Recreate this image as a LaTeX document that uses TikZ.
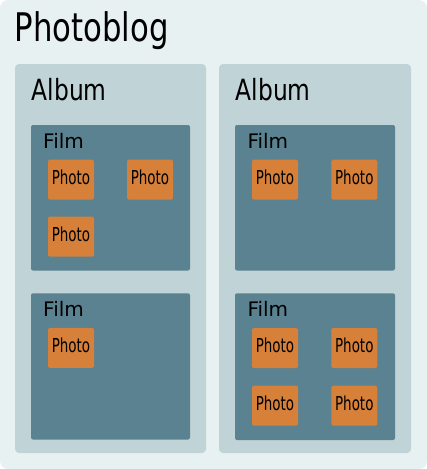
\documentclass[tikz,border=0pt]{standalone}
\usepackage{fontspec}
\setmainfont{DejaVu Sans}
\definecolor{blogbg}{RGB}{232,241,241}
\definecolor{albumbg}{RGB}{192,211,214}
\definecolor{filmbg}{RGB}{90,130,145}
\definecolor{photobg}{RGB}{214,128,58}
\newcommand{\blogtext}[1]{\scalebox{0.78}[1]{\fontsize{39.4}{40}\selectfont #1}}
\newcommand{\albumtext}[1]{\scalebox{0.8}[1]{\fontsize{29.2}{30}\selectfont #1}}
\newcommand{\filmtext}[1]{{\fontsize{20}{21}\selectfont #1}}
\newcommand{\phototext}[1]{\scalebox{0.7}[1]{\fontsize{19.2}{20}\selectfont #1}}
\tikzset{
	albumbox/.style={fill=albumbg, rounded corners=4pt},
	filmbox/.style={fill=filmbg, rounded corners=2pt},
	photobox/.style={fill=photobg, rounded corners=1.5pt, minimum width=46pt, minimum height=40pt, inner sep=0pt, text height=14pt, text depth=5pt},
	caption/.style={anchor=base west, inner sep=0pt}
}

\begin{document}
\begin{tikzpicture}[x=1pt, y=-1pt]
			%%%%% START %%%%%
			
			\useasboundingbox (0, 0) rectangle (427, 469);
			\fill[blogbg, rounded corners=8pt] (0, 0) rectangle (427, 469);
			\node[caption] (blog) at (14.5, 41) {\blogtext{Photoblog}};
			
			\fill[albumbox] (15, 64) rectangle (206, 453);
			\node[caption] (albumA) at (31.5, 100) {\albumtext{Album}};
			
			\fill[albumbox] (219, 64) rectangle (411, 453);
			\node[caption] (albumB) at (235.5, 100) {\albumtext{Album}};
			
			\fill[filmbox] (31, 125) rectangle (190, 270.5);
			\node[caption] (filmA1) at (43, 148.7) {\filmtext{Film}};
			\node[photobox] (photoA1a) at (71, 179.7) {\phototext{Photo}};
			\node[photobox] (photoA1b) at (150, 179.7) {\phototext{Photo}};
			\node[photobox] (photoA1c) at (71, 236.7) {\phototext{Photo}};
			
			\fill[filmbox] (31, 293.3) rectangle (190, 439.5);
			\node[caption] (filmA2) at (43, 316) {\filmtext{Film}};
			\node[photobox] (photoA2a) at (71, 347.8) {\phototext{Photo}};
			
			\fill[filmbox] (235, 125) rectangle (395, 270.5);
			\node[caption] (filmB1) at (247.3, 148.7) {\filmtext{Film}};
			\node[photobox] (photoB1a) at (275, 179.7) {\phototext{Photo}};
			\node[photobox] (photoB1b) at (354.3, 179.7) {\phototext{Photo}};
			
			\fill[filmbox] (235, 293.3) rectangle (395, 440);
			\node[caption] (filmB2) at (247.3, 316) {\filmtext{Film}};
			\node[photobox] (photoB2a) at (275, 348) {\phototext{Photo}};
			\node[photobox] (photoB2b) at (354.3, 348) {\phototext{Photo}};
			\node[photobox] (photoB2c) at (275, 405.7) {\phototext{Photo}};
			\node[photobox] (photoB2d) at (354.3, 405.7) {\phototext{Photo}};
			
			%%%%% END %%%%%
		\end{tikzpicture}
\end{document}
